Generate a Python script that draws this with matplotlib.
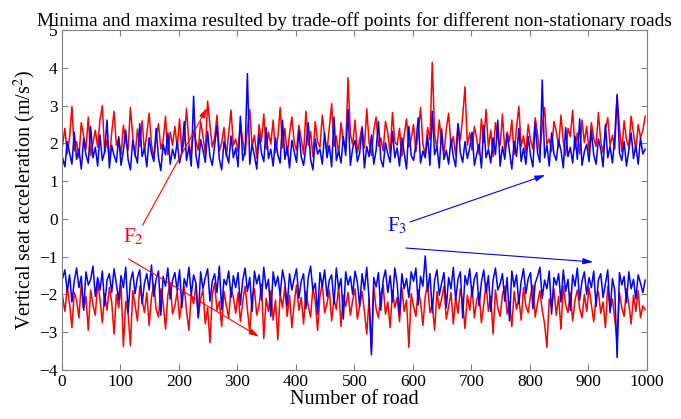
import matplotlib
matplotlib.use('Agg')
import matplotlib.pyplot as plt
import numpy as np

plt.rcParams['font.family'] = ['Liberation Serif', 'DejaVu Serif']
plt.rcParams['mathtext.fontset'] = 'stix'

# road index (every 4th road sampled)
road = np.arange(1, 1001, 4)

# F2 (red) maxima
f2_max = [1.95, 2.40, 1.72, 2.15, 2.98, 1.80, 2.05, 1.62, 2.55, 2.20, 1.85, 2.70, 1.68, 2.02, 2.35, 1.90, 2.62, 3.00, 1.75, 2.10, 1.58, 2.28, 2.85, 1.95, 2.12,
          1.70, 2.48, 2.05, 1.82, 2.95, 2.18, 1.65, 2.38, 1.92, 2.60, 1.78, 2.25, 2.80, 1.98, 1.60, 2.15, 2.52, 1.85, 2.08, 2.72, 1.70, 2.30, 1.95, 2.45, 1.88,
          2.65, 1.75, 2.10, 2.92, 2.00, 1.68, 2.35, 2.05, 1.82, 2.58, 2.20, 1.72, 3.12, 2.48, 1.90, 2.15, 2.75, 1.80, 2.02, 2.42, 1.65, 2.28, 2.88, 1.95, 2.12,
          1.78, 2.55, 2.08, 1.70, 2.38, 2.90, 1.92, 2.22, 1.62, 2.50, 2.05, 2.78, 1.85, 2.30, 1.98, 2.62, 1.75, 2.15, 2.95, 1.88, 2.40, 1.68, 2.25, 2.70, 2.02,
          1.82, 2.48, 2.12, 1.72, 2.85, 1.95, 2.32, 1.65, 2.58, 2.05, 1.90, 2.75, 2.18, 1.78, 2.42, 3.05, 1.92, 2.20, 1.70, 2.55, 2.08, 1.85, 3.74, 2.25, 1.96,
          2.62, 1.75, 2.10, 2.45, 1.88, 2.92, 2.02, 1.68, 2.35, 2.70, 1.92, 2.15, 1.80, 2.58, 2.28, 1.72, 2.82, 2.05, 1.95, 2.40, 1.66, 2.22, 2.65, 1.90, 2.12,
          2.50, 1.78, 2.30, 2.95, 1.98, 1.70, 2.42, 2.10, 4.15, 2.25, 1.85, 2.62, 2.05, 1.75, 2.38, 2.80, 1.92, 2.18, 1.68, 2.52, 2.08, 2.72, 3.50, 1.95, 2.28,
          1.82, 2.45, 2.12, 1.72, 2.65, 2.02, 2.90, 1.88, 2.35, 1.65, 2.55, 2.15, 1.95, 2.78, 1.80, 2.30, 2.05, 2.62, 1.70, 2.42, 2.98, 1.92, 2.20, 1.75, 2.50,
          2.08, 1.85, 2.68, 2.25, 1.72, 2.48, 2.95, 1.98, 2.12, 1.78, 2.58, 2.32, 1.90, 2.75, 2.05, 1.68, 2.40, 2.18, 2.88, 1.85, 2.28, 1.72, 2.62, 2.02, 2.45,
          1.80, 2.55, 2.15, 1.92, 2.82, 2.05, 1.75, 2.38, 2.68, 1.95, 2.22, 1.85, 3.25, 2.42, 1.78, 2.60, 2.10, 1.90, 2.72, 2.28, 1.82, 2.50, 2.15, 2.35, 2.72]

# F3 (blue) maxima
f3_max = [1.62, 1.38, 2.05, 1.75, 1.45, 2.30, 1.58, 1.85, 1.32, 2.12, 1.70, 1.48, 2.45, 1.62, 1.90, 1.40, 2.22, 1.55, 1.78, 2.62, 1.35, 1.95, 1.68, 1.50, 2.18,
          1.42, 1.82, 2.35, 1.58, 1.30, 2.08, 1.72, 1.48, 2.52, 1.65, 1.88, 1.38, 2.15, 1.75, 1.52, 2.40, 1.62, 1.28, 1.98, 1.70, 2.28, 1.45, 1.85, 1.60, 2.05,
          1.48, 1.78, 2.58, 1.55, 1.92, 1.40, 3.25, 1.68, 1.35, 2.10, 1.82, 1.50, 2.32, 1.65, 1.42, 1.95, 2.48, 1.58, 1.30, 2.05, 1.72, 1.48, 2.20, 1.62, 1.88,
          1.38, 2.72, 1.55, 1.80, 3.85, 1.45, 1.98, 1.68, 1.32, 2.25, 1.75, 1.52, 2.42, 1.60, 1.85, 1.40, 2.15, 1.70, 1.48, 2.62, 1.58, 1.92, 1.35, 2.08, 1.78,
          1.50, 2.35, 1.65, 1.42, 1.90, 2.55, 1.58, 1.30, 2.12, 1.72, 1.85, 1.45, 2.28, 1.62, 1.95, 1.38, 2.70, 1.55, 1.80, 1.48, 2.18, 1.68, 2.90, 1.42, 1.88,
          2.08, 1.52, 1.75, 2.40, 1.35, 1.92, 1.65, 2.22, 1.45, 1.82, 2.58, 1.58, 1.38, 2.02, 1.72, 1.50, 2.32, 1.62, 1.88, 1.40, 2.15, 1.75, 1.32, 2.45, 1.68,
          1.55, 1.98, 2.68, 1.48, 1.80, 1.62, 2.20, 1.42, 2.85, 1.70, 1.92, 1.35, 2.38, 1.58, 1.82, 1.45, 2.12, 1.65, 1.38, 2.52, 1.75, 1.50, 2.05, 1.60, 1.88,
          2.30, 1.42, 1.72, 1.98, 1.35, 2.48, 1.62, 1.85, 1.48, 2.15, 1.70, 2.62, 1.40, 1.92, 1.58, 2.25, 1.78, 1.32, 2.05, 1.65, 2.40, 1.52, 1.88, 1.45, 2.18,
          1.68, 1.38, 2.55, 1.75, 1.50, 3.68, 1.62, 1.95, 1.40, 2.28, 1.72, 1.55, 2.08, 1.82, 1.35, 2.42, 1.65, 1.90, 1.48, 2.20, 1.58, 2.65, 1.42, 1.78, 1.98,
          1.52, 2.35, 1.70, 1.45, 2.12, 1.85, 1.38, 2.50, 1.62, 1.92, 1.48, 2.18, 3.30, 1.75, 1.55, 2.05, 1.40, 1.82, 2.28, 1.60, 1.95, 1.45, 2.15, 1.72, 1.85]

# F2 (red) minima
f2_min = [-2.05, -2.45, -1.80, -2.25, -2.88, -1.95, -2.15, -2.62, -1.72, -2.38, -2.05, -2.95, -1.88, -2.28, -2.55, -1.70, -2.12, -2.75, -1.98, -2.42, -1.82, -2.20, -3.05, -2.00, -2.35,
          -1.75, -3.38, -2.18, -2.50, -3.36, -1.90, -2.28, -2.70, -1.78, -2.15, -2.48, -1.95, -2.82, -2.08, -1.72, -2.40, -2.60, -1.85, -2.22, -2.92, -2.02, -1.68, -2.52, -2.30, -1.92,
          -2.65, -2.10, -1.80, -2.45, -2.95, -1.98, -2.25, -1.75, -2.58, -2.12, -1.88, -2.78, -2.35, -3.28, -2.00, -1.70, -2.42, -2.18, -2.85, -1.92, -2.30, -2.62, -1.82, -2.08, -2.50,
          -1.95, -2.72, -2.20, -1.78, -2.38, -3.00, -2.05, -1.85, -2.55, -2.28, -1.72, -3.17, -2.10, -2.45, -1.90, -2.68, -2.15, -3.20, -1.98, -2.35, -1.80, -2.58, -2.02, -2.88, -2.22,
          -1.75, -2.42, -2.08, -2.78, -1.92, -2.30, -2.60, -1.82, -2.18, -2.95, -2.05, -1.70, -2.48, -2.25, -1.88, -2.70, -2.12, -2.40, -1.78, -2.85, -2.02, -2.32, -1.95, -2.55, -2.15,
          -1.85, -2.65, -2.28, -1.92, -2.45, -3.05, -2.10, -3.50, -1.80, -2.38, -2.62, -2.00, -1.75, -2.52, -2.20, -2.88, -1.90, -2.35, -2.08, -2.72, -1.82, -2.45, -2.15, -3.40, -1.98,
          -2.30, -2.58, -1.88, -2.20, -2.82, -2.05, -1.72, -2.48, -2.25, -2.95, -1.92, -2.38, -2.12, -1.78, -2.65, -2.32, -1.95, -2.78, -2.08, -2.50, -1.85, -2.22, -2.90, -2.02, -2.42,
          -1.80, -2.62, -2.15, -1.95, -2.75, -2.28, -1.70, -2.45, -2.05, -3.05, -1.88, -2.35, -2.58, -2.00, -1.78, -2.52, -2.18, -2.85, -1.92, -2.40, -2.10, -2.68, -1.82, -2.30, -2.48,
          -2.02, -1.75, -2.60, -2.22, -1.90, -2.42, -2.78, -3.40, -2.12, -2.35, -1.85, -2.55, -2.05, -2.92, -1.78, -2.28, -2.48, -1.95, -2.70, -2.15, -1.88, -2.38, -2.62, -2.00, -2.45,
          -1.82, -2.28, -2.72, -2.08, -1.92, -2.50, -2.20, -2.88, -1.78, -2.42, -2.12, -2.65, -3.20, -1.95, -2.35, -2.58, -1.85, -2.25, -2.78, -2.02, -2.45, -1.90, -2.62, -2.30, -2.40]

# F3 (blue) minima
f3_min = [-1.58, -1.35, -1.92, -1.48, -2.20, -1.65, -1.30, -1.82, -1.52, -2.42, -1.40, -1.75, -1.60, -1.25, -2.05, -1.55, -1.88, -1.38, -2.30, -1.62, -1.45, -1.95, -1.32, -1.72, -2.15,
          -1.50, -1.82, -1.28, -2.48, -1.65, -1.40, -1.98, -1.55, -1.35, -2.25, -1.70, -1.45, -1.88, -1.22, -2.05, -1.60, -1.38, -2.55, -1.52, -1.78, -1.30, -2.12, -1.62, -1.42, -1.90,
          -1.35, -2.35, -1.58, -1.80, -1.28, -2.02, -1.48, -1.70, -2.62, -1.40, -1.85, -1.55, -1.32, -2.18, -1.65, -1.45, -1.95, -1.25, -2.40, -1.60, -1.75, -1.38, -2.08, -1.50, -1.82,
          -1.42, -2.28, -1.62, -1.30, -1.92, -1.55, -2.45, -1.38, -1.72, -1.48, -2.15, -1.28, -1.85, -1.60, -2.58, -1.40, -1.78, -1.52, -2.02, -1.35, -1.68, -2.30, -1.45, -1.88, -1.58,
          -1.32, -2.10, -1.65, -1.45, -2.38, -1.55, -1.25, -1.90, -1.70, -2.52, -1.42, -1.80, -1.35, -2.05, -1.62, -1.48, -2.25, -1.30, -1.85, -1.58, -2.65, -1.40, -1.75, -1.52, -2.00,
          -1.38, -1.68, -2.32, -1.45, -1.88, -1.28, -2.12, -3.60, -1.55, -1.80, -1.42, -2.42, -1.62, -1.35, -1.95, -1.50, -2.20, -1.30, -1.72, -2.55, -1.45, -1.85, -1.58, -2.08, -1.40,
          -1.65, -1.30, -2.28, -1.52, -1.78, -0.98, -1.92, -1.45, -2.48, -1.62, -1.35, -2.02, -1.70, -1.42, -2.35, -1.55, -1.85, -1.28, -2.15, -1.60, -1.40, -2.62, -1.50, -1.75, -1.32,
          -2.05, -1.58, -1.42, -2.30, -1.68, -1.35, -1.95, -1.50, -2.45, -1.62, -1.30, -1.88, -1.72, -1.45, -2.18, -1.55, -2.70, -1.38, -1.80, -1.48, -2.25, -1.65, -1.32, -1.98, -1.58,
          -1.42, -2.38, -1.70, -1.52, -1.28, -2.10, -1.62, -1.85, -1.38, -2.52, -1.55, -1.75, -1.45, -2.20, -1.35, -1.92, -1.60, -2.42, -1.48, -1.78, -1.30, -2.15, -1.65, -1.40, -2.00,
          -1.55, -1.82, -1.38, -2.32, -1.62, -1.45, -2.08, -1.72, -1.35, -2.48, -1.58, -1.90, -3.67, -1.42, -1.75, -1.52, -2.22, -1.40, -1.85, -1.60, -2.12, -1.48, -1.70, -1.95, -1.62]

fig = plt.figure(figsize=(6.81, 4.19), dpi=100)
ax = fig.add_axes([0.091, 0.117, 0.859, 0.811])

ax.plot(road, f2_max, color='red', lw=1.1)
ax.plot(road, f2_min, color='red', lw=1.1)
ax.plot(road, f3_max, color='blue', lw=1.1)
ax.plot(road, f3_min, color='blue', lw=1.1)

ax.set_xlim(0, 1000)
ax.set_ylim(-4, 5)
ax.set_xticks(np.arange(0, 1001, 100))
ax.set_yticks(np.arange(-4, 6, 1))
ax.tick_params(direction='in', top=True, right=True, labelsize=12.5, color='#808080', length=4, pad=3)
for s in ax.spines.values():
    s.set_color('#808080')

ax.set_title('Minima and maxima resulted by trade-off points for different non-stationary roads',
             fontsize=13.9, pad=3)
ax.set_xlabel('Number of road', fontsize=14.5, labelpad=0)
ax.set_ylabel('Vertical seat acceleration (m/s$^2$)', fontsize=14.5, labelpad=1)

# annotation arrows
ap = dict(arrowstyle='-|>,head_length=0.6,head_width=0.18', lw=0.8, shrinkA=0, shrinkB=0)
ax.annotate('', xy=(248, 2.94), xytext=(138, -0.16), arrowprops=dict(color='red', **ap), zorder=5)
ax.annotate('', xy=(337, -3.12), xytext=(114, -1.06), arrowprops=dict(color='red', **ap), zorder=5)
ax.annotate('', xy=(826, 1.16), xytext=(595, -0.08), arrowprops=dict(color='blue', **ap), zorder=5)
ax.annotate('', xy=(908, -1.14), xytext=(588, -0.77), arrowprops=dict(color='blue', **ap), zorder=5)
ax.text(104, -0.61, 'F$_2$', color='red', fontsize=15)
ax.text(556, -0.34, 'F$_3$', color='blue', fontsize=15)

fig.savefig('out.png', dpi=100)
